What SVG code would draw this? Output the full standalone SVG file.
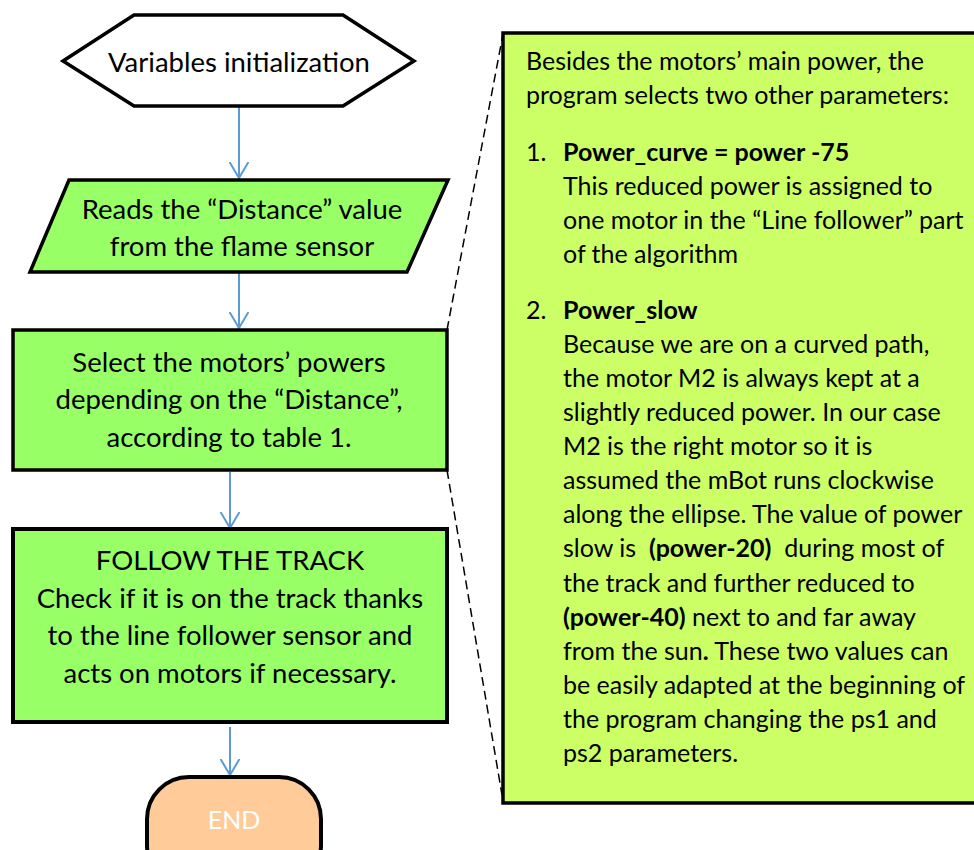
<svg xmlns="http://www.w3.org/2000/svg" width="974" height="850" viewBox="0 0 974 850">
<style>
  .t { font-family: Lato, "Liberation Sans", sans-serif; font-size: 27.5px; fill: #000; white-space: pre; }
  .r { font-size: 25px; }
  .c { text-anchor: middle; }
  .b { font-weight: bold; }
  .box { stroke: #000; stroke-width: 3.5; stroke-linejoin: miter; }
  .green { fill: #99FF66; }
  .conn { stroke: #5B9BD5; stroke-width: 2; fill: none; }
  .dash { stroke: #000; stroke-width: 1.5; stroke-dasharray: 9 5; fill: none; }
</style>
<defs>
  <marker id="arr" viewBox="0 0 20 20" refX="16" refY="10" markerWidth="20" markerHeight="20" markerUnits="userSpaceOnUse" orient="auto">
    <path d="M0,0.5 L16,10 L0,19.5" fill="none" stroke="#5B9BD5" stroke-width="2"/>
  </marker>
</defs>
<rect width="974" height="850" fill="#fff"/>

<g id="callout-links">
  <line class="dash" x1="447" y1="330" x2="503" y2="34"/>
  <line class="dash" x1="447" y1="470" x2="502" y2="795"/>
</g>

<g id="connectors">
  <line class="conn" x1="239" y1="106" x2="239" y2="178" marker-end="url(#arr)"/>
  <line class="conn" x1="239" y1="272" x2="239" y2="328" marker-end="url(#arr)"/>
  <line class="conn" x1="230" y1="472" x2="230" y2="528" marker-end="url(#arr)"/>
  <line class="conn" x1="230" y1="727" x2="230" y2="775" marker-end="url(#arr)"/>
</g>

<g id="init">
  <polygon class="box" fill="#fff" points="63,61 134,15 343,15 414,61 343,106 134,106"/>
  <text class="t c" x="239" y="72">Variables initialization</text>
</g>

<g id="read">
  <polygon class="box green" points="69,180 448,180 407,272 30,272"/>
  <text class="t c" x="242" y="219">Reads the “Distance” value</text>
  <text class="t c" x="242" y="256">from the flame sensor</text>
</g>

<g id="select">
  <rect class="box green" x="13" y="330" width="434" height="140"/>
  <text class="t c" x="229" y="372">Select the motors’ powers</text>
  <text class="t c" x="229" y="409">depending on the “Distance”,</text>
  <text class="t c" x="229" y="447">according to table 1.</text>
</g>

<g id="follow">
  <rect class="box green" x="13" y="529" width="434" height="193" style="stroke-width:4"/>
  <text class="t c" x="230" y="570">FOLLOW THE TRACK</text>
  <text class="t c" x="230" y="608">Check if it is on the track thanks</text>
  <text class="t c" x="230" y="645">to the line follower sensor and</text>
  <text class="t c" x="230" y="683">acts on motors if necessary.</text>
</g>

<g id="end">
  <rect x="147" y="777" width="174" height="110" rx="42" ry="42" fill="#FFCC99" stroke="#000" stroke-width="4"/>
  <text class="t c" x="234" y="829" style="fill:#fff;font-size:25px">END</text>
</g>

<g id="note">
  <rect class="box" x="503" y="33" width="500" height="770" fill="#CCFF66"/>
  <g class="t r">
    <text x="526" y="70">Besides the motors’ main power, the</text>
    <text x="526" y="104">program selects two other parameters:</text>
    <text x="526" y="161">1.</text>
    <text x="563" y="161" class="b">Power_curve = power -75</text>
    <text x="563" y="195">This reduced power is assigned to</text>
    <text x="563" y="229">one motor in the “Line follower” part</text>
    <text x="563" y="263">of the algorithm</text>
    <text x="526" y="319">2.</text>
    <text x="563" y="319" class="b">Power_slow</text>
    <text x="563" y="353">Because we are on a curved path,</text>
    <text x="563" y="387">the motor M2 is always kept at a</text>
    <text x="563" y="421">slightly reduced power. In our case</text>
    <text x="563" y="455">M2 is the right motor so it is</text>
    <text x="563" y="489">assumed the mBot runs clockwise</text>
    <text x="563" y="523">along the ellipse. The value of power</text>
    <text x="563" y="557" xml:space="preserve">slow is  <tspan class="b">(power-20)</tspan>  during most of</text>
    <text x="563" y="592">the track and further reduced to</text>
    <text x="563" y="626"><tspan class="b">(power-40)</tspan> next to and far away</text>
    <text x="563" y="660">from the sun<tspan class="b">.</tspan> These two values can</text>
    <text x="563" y="694">be easily adapted at the beginning of</text>
    <text x="563" y="728">the program changing the ps1 and</text>
    <text x="563" y="762">ps2 parameters.</text>
  </g>
</g>
</svg>
